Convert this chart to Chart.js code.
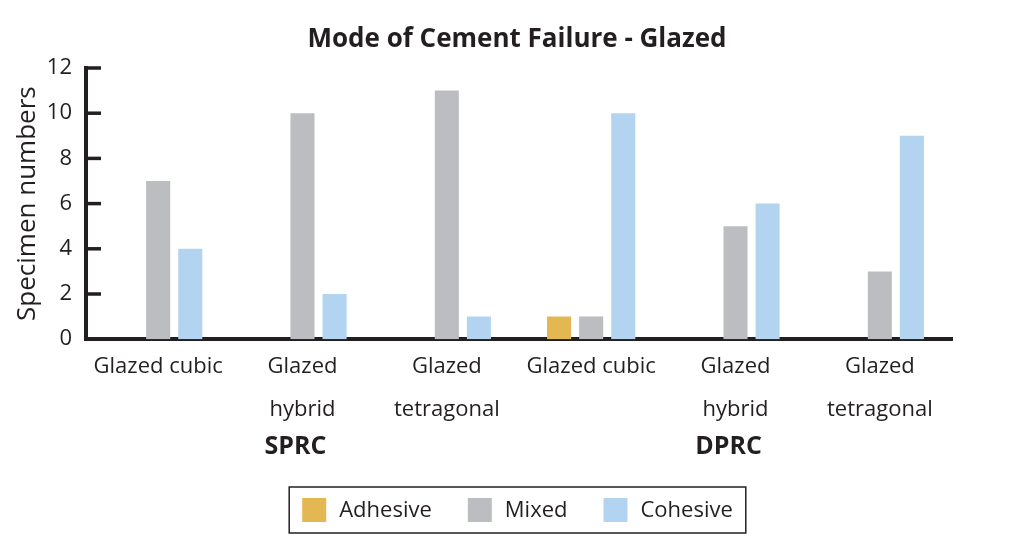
<!DOCTYPE html>
<html>
<head>
<meta charset="utf-8">
<script src="https://cdn.jsdelivr.net/npm/chart.js@4/dist/chart.umd.min.js"></script>
<style>
  html, body { margin: 0; padding: 0; background: #fff; }
  #wrap { width: 1023px; height: 554px; }
</style>
</head>
<body>
<div id="wrap"><canvas id="chart" width="1023" height="554"></canvas></div>
<script>
const categories = [
  ['Glazed cubic'], ['Glazed', 'hybrid'], ['Glazed', 'tetragonal'],
  ['Glazed cubic'], ['Glazed', 'hybrid'], ['Glazed', 'tetragonal']
];
const groups = ['SPRC', 'DPRC'];
const groupCenters = [1, 4];
const adhesive = [0, 0, 0, 1, 0, 0];
const mixed = [7, 10, 11, 1, 5, 3];
const cohesive = [4, 2, 1, 10, 6, 9];
const yTicks = [0, 2, 4, 6, 8, 10, 12];

const ink = '#231f20';
const FONT = '"Open Sans", sans-serif';

const extras = {
  id: 'extras',
  afterDraw(chart) {
    const ctx = chart.ctx;
    const x = chart.scales.x, y = chart.scales.y;
    const area = chart.chartArea;
    ctx.save();
    // inward tick marks on the y axis
    ctx.strokeStyle = ink;
    ctx.lineWidth = 3.5;
    yTicks.forEach(v => {
      const py = y.getPixelForValue(v);
      ctx.beginPath();
      ctx.moveTo(area.left, py);
      ctx.lineTo(area.left + 15, py);
      ctx.stroke();
    });
    // title
    ctx.fillStyle = ink;
    ctx.textAlign = 'center';
    ctx.textBaseline = 'middle';
    ctx.font = 'bold 26px ' + FONT;
    ctx.fillText('Mode of Cement Failure - Glazed', 517, 40);
    // group labels
    ctx.font = 'bold 25px ' + FONT;
    groups.forEach((g, i) => {
      ctx.fillText(g, x.getPixelForValue(groupCenters[i]) - 7, 447);
    });
    // legend
    ctx.font = '22px ' + FONT;
    const items = chart.data.datasets.map(d => ({ label: d.label, color: d.backgroundColor }));
    const sq = 24, gapText = 13, gapItem = 36, padX = 13;
    let total = padX * 2;
    items.forEach((it, i) => {
      it.w = ctx.measureText(it.label).width;
      total += sq + gapText + it.w + (i < items.length - 1 ? gapItem : 0);
    });
    const bx = 517.5 - total / 2, by = 487, bh = 46;
    ctx.lineWidth = 1.5;
    ctx.strokeStyle = ink;
    ctx.strokeRect(bx, by, total, bh);
    let cx = bx + padX;
    ctx.textAlign = 'left';
    items.forEach(it => {
      ctx.fillStyle = it.color;
      ctx.fillRect(cx, by + 11, sq, sq);
      cx += sq + gapText;
      ctx.fillStyle = ink;
      ctx.fillText(it.label, cx, by + bh / 2 + 1);
      cx += it.w + gapItem;
    });
    ctx.restore();
  }
};

new Chart(document.getElementById('chart'), {
  type: 'bar',
  data: {
    labels: categories,
    datasets: [
      { label: 'Adhesive', data: adhesive, backgroundColor: '#e3b752' },
      { label: 'Mixed', data: mixed, backgroundColor: '#bcbdc1' },
      { label: 'Cohesive', data: cohesive, backgroundColor: '#b3d4f1' }
    ]
  },
  options: {
    responsive: false,
    animation: false,
    layout: { padding: { top: 68, right: 71, left: 0, bottom: 117 } },
    datasets: { bar: { categoryPercentage: 0.667, barPercentage: 0.75 } },
    plugins: { legend: { display: false }, title: { display: false }, tooltip: { enabled: false } },
    scales: {
      x: {
        grid: { display: false, drawTicks: false },
        border: { color: ink, width: 4 },
        ticks: { color: ink, font: { family: FONT, size: 22, lineHeight: 1.95 }, padding: 6, maxRotation: 0, autoSkip: false }
      },
      y: {
        min: 0, max: 12,
        afterFit: s => { s.width = 86; },
        afterBuildTicks: s => { s.ticks = yTicks.map(v => ({ value: v })); },
        grid: { display: false, drawTicks: false },
        border: { color: ink, width: 4 },
        ticks: { color: ink, font: { family: FONT, size: 22 }, padding: 14 },
        title: { display: true, text: 'Specimen numbers', color: ink, font: { family: FONT, size: 26 }, padding: { top: 12, bottom: 0 } }
      }
    }
  },
  plugins: [extras]
});
</script>
</body>
</html>
